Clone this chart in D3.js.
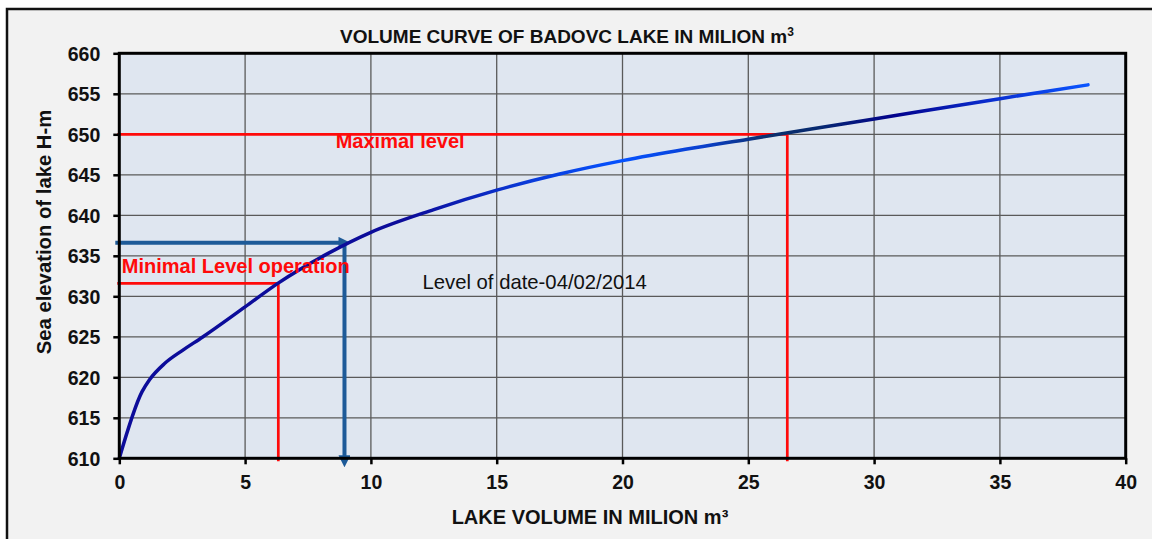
<!DOCTYPE html>
<html>
<head>
<meta charset="utf-8">
<script src="https://cdn.jsdelivr.net/npm/d3@7"></script>
<style>
  html, body { margin: 0; padding: 0; background: #ffffff; }
  svg { display: block; font-family: "Liberation Sans", Arial, sans-serif; }
</style>
</head>
<body>
<svg id="chart"></svg>
<script>
// data (volume in milion m3, elevation in m)
const volumeMil = [0, 0.9, 1.2, 1.8, 2.5, 3.3, 5.0, 6.3, 8.3, 10.0, 12.5, 15.0, 17.5, 20.0, 22.5, 25.0, 27.5, 30.0, 35.0, 38.5];
const elevationM = [610, 618.2, 619.7, 621.7, 623.3, 624.95, 628.7, 631.6, 635.3, 637.9, 640.7, 643.1, 645.1, 646.75, 648.15, 649.4, 650.65, 651.9, 654.4, 656.1];

const xTickValues = [0, 5, 10, 15, 20, 25, 30, 35, 40];
const yTickValues = [610, 615, 620, 625, 630, 635, 640, 645, 650, 655, 660];

// reference levels [volume, elevation]
const maximalLevel = [26.55, 650];
const minimalLevel = [6.32, 631.6];
const dateLevel = [8.95, 636.6];

const W = 1152, H = 539;
const margin = {left: 119.3, top: 53.3, right: 1152 - 1125.7, bottom: 539 - 458.3};
const innerW = W - margin.left - margin.right;
const innerH = H - margin.top - margin.bottom;

const redColor = '#ff0a0a';
const arrowColor = '#1d5a98';

const svg = d3.select('#chart').attr('width', W).attr('height', H);

// outer frame
svg.append('rect').attr('x', 7).attr('y', 9).attr('width', W).attr('height', H)
  .attr('fill', '#f2f2f2').attr('stroke', '#111').attr('stroke-width', 2.5);

const x = d3.scaleLinear().domain([0, 40]).range([0, innerW]);
const y = d3.scaleLinear().domain([610, 660]).range([innerH, 0]);

const defs = svg.append('defs');

// glossy blue line like the excel one
const grad = defs.append('linearGradient')
  .attr('id', 'curveGrad')
  .attr('gradientUnits', 'userSpaceOnUse')
  .attr('x1', x(0)).attr('x2', x(38.5)).attr('y1', 0).attr('y2', 0);
[
  [0, '#0c0c9a'], [0.3, '#0c0c9a'], [0.42, '#0a3ad8'], [0.52, '#0552ff'],
  [0.6, '#0a40d0'], [0.67, '#0b2f6c'], [0.72, '#072a70'], [0.8, '#02028c'],
  [0.9, '#0a2ed0'], [1, '#0a55ff']
].forEach(s => grad.append('stop').attr('offset', s[0]).attr('stop-color', s[1]));

function addMarker(id, color) {
  defs.append('marker')
    .attr('id', id)
    .attr('viewBox', '0 0 10 10')
    .attr('refX', 5).attr('refY', 5)
    .attr('markerWidth', 3).attr('markerHeight', 3)
    .attr('orient', 'auto')
    .append('path')
      .attr('d', 'M0,0 L10,5 L0,10 Z')
      .attr('fill', color);
}
addMarker('arrowHead', arrowColor);

const g = svg.append('g')
  .attr('transform', 'translate(' + margin.left + ',' + margin.top + ')');

// plot area
g.append('rect').attr('width', innerW).attr('height', innerH).attr('fill', '#dfe6f0');

// grid
g.append('g').selectAll('line').data(xTickValues.slice(1, -1)).enter().append('line')
  .attr('x1', d => x(d)).attr('x2', d => x(d)).attr('y1', 0).attr('y2', innerH)
  .attr('stroke', '#5a5a5a').attr('stroke-width', 1.3);
g.append('g').selectAll('line').data(yTickValues.slice(1, -1)).enter().append('line')
  .attr('y1', d => y(d)).attr('y2', d => y(d)).attr('x1', 0).attr('x2', innerW)
  .attr('stroke', '#5a5a5a').attr('stroke-width', 1.3);

// reference lines
function levelPath(level) {
  return 'M' + (x(0) - 2) + ',' + y(level[1]) + 'H' + x(level[0]) + 'V' + (innerH + 3);
}
g.append('path').attr('d', levelPath(maximalLevel))
  .attr('fill', 'none').attr('stroke', redColor).attr('stroke-width', 2.7);
g.append('path').attr('d', levelPath(minimalLevel))
  .attr('fill', 'none').attr('stroke', redColor).attr('stroke-width', 2.7);

// date level arrows
g.append('line')
  .attr('x1', x(0) - 4).attr('x2', x(dateLevel[0]))
  .attr('y1', y(dateLevel[1])).attr('y2', y(dateLevel[1]))
  .attr('stroke', arrowColor).attr('stroke-width', 4)
  .attr('marker-end', 'url(#arrowHead)');
g.append('line')
  .attr('x1', x(dateLevel[0])).attr('x2', x(dateLevel[0]))
  .attr('y1', y(dateLevel[1])).attr('y2', innerH + 3)
  .attr('stroke', arrowColor).attr('stroke-width', 4)
  .attr('marker-end', 'url(#arrowHead)');

// the volume curve
const line = d3.line()
  .x(d => x(d[0]))
  .y(d => y(d[1]))
  .curve(d3.curveMonotoneX);
g.append('path')
  .datum(d3.zip(volumeMil, elevationM))
  .attr('d', line)
  .attr('fill', 'none')
  .attr('stroke', 'url(#curveGrad)')
  .attr('stroke-width', 3.5)
  .attr('stroke-linecap', 'round');

// plot border
g.append('rect').attr('width', innerW).attr('height', innerH)
  .attr('fill', 'none').attr('stroke', '#000').attr('stroke-width', 3);

// axes
const xAxis = g.append('g')
  .attr('transform', 'translate(0,' + innerH + ')')
  .call(d3.axisBottom(x).tickValues(xTickValues).tickSize(6).tickPadding(11));
const yAxis = g.append('g')
  .call(d3.axisLeft(y).tickValues(yTickValues).tickSize(6).tickPadding(13));
[xAxis, yAxis].forEach(a => {
  a.select('.domain').remove();
  a.selectAll('.tick line').attr('stroke', '#000').attr('stroke-width', 2.5);
  a.selectAll('.tick text')
    .attr('fill', '#111')
    .style('font-size', '19.5px')
    .style('font-weight', 'bold')
    .style('font-family', '"Liberation Sans", Arial, sans-serif');
});
yAxis.selectAll('.tick text').attr('dy', '0.36em');

// labels inside the plot
g.append('text')
  .attr('x', x(8.6)).attr('y', y(648.3))
  .attr('fill', redColor).style('font-size', '20px').style('font-weight', 'bold')
  .text('Maximal level');
g.append('text')
  .attr('x', x(0.1)).attr('y', y(632.9))
  .attr('fill', redColor).style('font-size', '20px').style('font-weight', 'bold')
  .text('Minimal Level operation');
g.append('text')
  .attr('x', x(12.05)).attr('y', y(630.95))
  .attr('fill', '#111').style('font-size', '20.3px')
  .text('Level of date-04/02/2014');

// title and axis titles
const title = svg.append('text')
  .attr('x', 567).attr('y', 43)
  .attr('text-anchor', 'middle')
  .attr('fill', '#111').style('font-size', '19px').style('font-weight', 'bold')
  .text('VOLUME CURVE OF BADOVC LAKE IN MILION m');
title.append('tspan').attr('dy', -7).style('font-size', '12px').text('3');

svg.append('text')
  .attr('x', 590).attr('y', 524)
  .attr('text-anchor', 'middle')
  .attr('fill', '#111').style('font-size', '20px').style('font-weight', 'bold')
  .text('LAKE VOLUME IN MILION m³');

svg.append('text')
  .attr('transform', 'translate(51,232) rotate(-90)')
  .attr('text-anchor', 'middle')
  .attr('fill', '#111').style('font-size', '20.3px').style('font-weight', 'bold')
  .text('Sea elevation of lake H-m');
</script>
</body>
</html>
